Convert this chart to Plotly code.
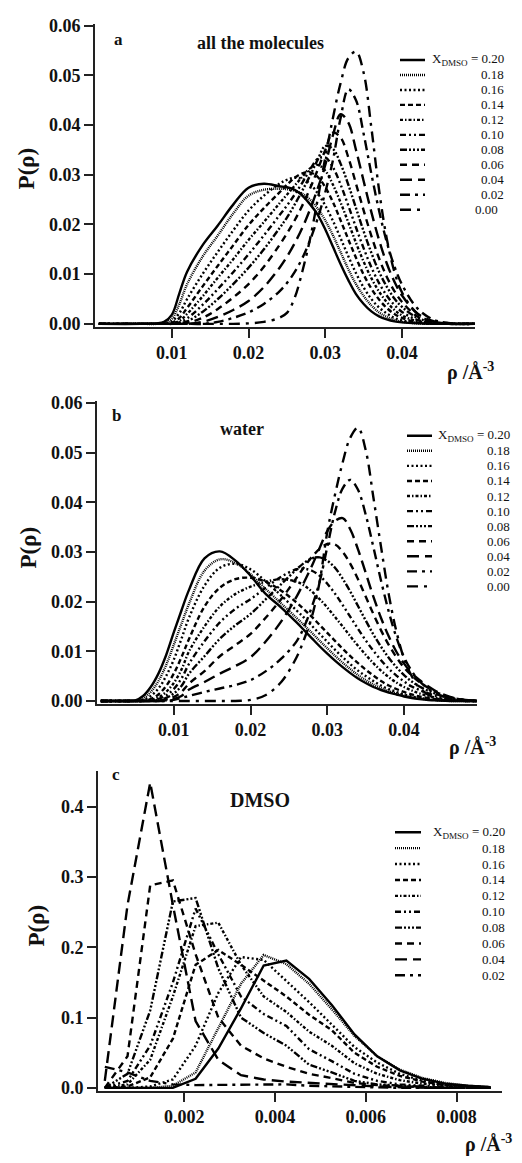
import plotly.graph_objects as go

W, H = 522, 1163
SERIF = "Liberation Serif"
INK = "#111111"

# ---------------- data ----------------
LABELS_AB = ["0.20", "0.18", "0.16", "0.14", "0.12", "0.10", "0.08", "0.06", "0.04", "0.02", "0.00"]
LABELS_C = ["0.20", "0.18", "0.16", "0.14", "0.12", "0.10", "0.08", "0.06", "0.04", "0.02"]

# panel a : all the molecules
RHO_A = [0.0005, 0.006, 0.008, 0.009, 0.010, 0.011, 0.012, 0.014, 0.016, 0.018, 0.020, 0.022,
         0.024, 0.025, 0.026, 0.027, 0.028, 0.029, 0.030, 0.031, 0.032, 0.033, 0.034, 0.035,
         0.036, 0.037, 0.038, 0.039, 0.040, 0.042, 0.044, 0.046, 0.0495]
PA_020 = [0, 0, 0.0001, 0.0004, 0.0018, 0.0062, 0.0105, 0.0158, 0.0198, 0.0240, 0.0274, 0.0282,
          0.0277, 0.0275, 0.0270, 0.0258, 0.0241, 0.0220, 0.0190, 0.0155, 0.0120, 0.0088, 0.0060, 0.0040,
          0.0025, 0.0015, 0.0009, 0.0005, 0.0003, 0.0001, 0, 0, 0]
PA_018 = [0, 0, 0, 0.0002, 0.0010, 0.0040, 0.0080, 0.0135, 0.0178, 0.0222, 0.0258, 0.0270,
          0.0272, 0.0271, 0.0268, 0.0262, 0.0250, 0.0232, 0.0208, 0.0178, 0.0144, 0.0110, 0.0080, 0.0056,
          0.0037, 0.0023, 0.0014, 0.0008, 0.0004, 0.0001, 0, 0, 0]
PA_016 = [0, 0, 0, 0.0001, 0.0005, 0.0022, 0.0050, 0.0100, 0.0145, 0.0188, 0.0228, 0.0258,
          0.0282, 0.0290, 0.0294, 0.0292, 0.0282, 0.0263, 0.0238, 0.0207, 0.0172, 0.0136, 0.0102, 0.0073,
          0.0050, 0.0033, 0.0021, 0.0012, 0.0007, 0.0002, 0, 0, 0]
PA_014 = [0, 0, 0, 0, 0.0002, 0.0012, 0.0032, 0.0075, 0.0117, 0.0158, 0.0199, 0.0233,
          0.0264, 0.0280, 0.0294, 0.0303, 0.0305, 0.0296, 0.0275, 0.0245, 0.0208, 0.0170, 0.0133, 0.0099,
          0.0071, 0.0049, 0.0032, 0.0020, 0.0012, 0.0003, 0.0001, 0, 0]
PA_012 = [0, 0, 0, 0, 0.0001, 0.0006, 0.0020, 0.0055, 0.0093, 0.0130, 0.0169, 0.0205,
          0.0242, 0.0260, 0.0278, 0.0296, 0.0313, 0.0320, 0.0308, 0.0280, 0.0244, 0.0204, 0.0163, 0.0125,
          0.0092, 0.0065, 0.0044, 0.0028, 0.0017, 0.0005, 0.0001, 0, 0]
PA_010 = [0, 0, 0, 0, 0, 0.0003, 0.0011, 0.0038, 0.0070, 0.0104, 0.0140, 0.0178,
          0.0218, 0.0238, 0.0260, 0.0284, 0.0310, 0.0332, 0.0335, 0.0315, 0.0280, 0.0238, 0.0194, 0.0152,
          0.0114, 0.0082, 0.0057, 0.0038, 0.0024, 0.0008, 0.0002, 0, 0]
PA_008 = [0, 0, 0, 0, 0, 0.0001, 0.0005, 0.0024, 0.0050, 0.0080, 0.0113, 0.0150,
          0.0192, 0.0214, 0.0240, 0.0268, 0.0298, 0.0330, 0.0358, 0.0352, 0.0322, 0.0280, 0.0233, 0.0186,
          0.0143, 0.0105, 0.0075, 0.0051, 0.0034, 0.0012, 0.0003, 0, 0]
PA_006 = [0, 0, 0, 0, 0, 0, 0.0002, 0.0012, 0.0030, 0.0053, 0.0080, 0.0115,
          0.0158, 0.0182, 0.0208, 0.0238, 0.0272, 0.0310, 0.0350, 0.0385, 0.0375, 0.0335, 0.0282, 0.0228,
          0.0177, 0.0132, 0.0095, 0.0066, 0.0044, 0.0015, 0.0004, 0.0001, 0]
PA_004 = [0, 0, 0, 0, 0, 0, 0, 0.0004, 0.0014, 0.0028, 0.0046, 0.0074,
          0.0112, 0.0135, 0.0162, 0.0193, 0.0230, 0.0272, 0.0320, 0.0380, 0.0422, 0.0405, 0.0350, 0.0287,
          0.0225, 0.0169, 0.0122, 0.0085, 0.0057, 0.0021, 0.0006, 0.0001, 0]
PA_002 = [0, 0, 0, 0, 0, 0, 0, 0, 0.0004, 0.0012, 0.0023, 0.0040,
          0.0065, 0.0082, 0.0104, 0.0132, 0.0168, 0.0212, 0.0265, 0.0330, 0.0415, 0.0472, 0.0450, 0.0382,
          0.0302, 0.0228, 0.0165, 0.0116, 0.0079, 0.0031, 0.0009, 0.0002, 0]
PA_000 = [0, 0, 0, 0, 0, 0, 0, 0, 0, 0, 0.0001, 0.0004,
          0.0012, 0.0022, 0.0052, 0.0105, 0.0170, 0.0250, 0.0335, 0.0415, 0.0485, 0.0535, 0.0548, 0.0505,
          0.0395, 0.0270, 0.0172, 0.0105, 0.0063, 0.0020, 0.0004, 0, 0]

# panel b : water
RHO_B = [0.0005, 0.004, 0.005, 0.006, 0.007, 0.008, 0.009, 0.010, 0.011, 0.012, 0.014, 0.016,
         0.018, 0.020, 0.022, 0.024, 0.026, 0.027, 0.028, 0.029, 0.030, 0.031, 0.032, 0.033,
         0.034, 0.035, 0.036, 0.037, 0.038, 0.039, 0.040, 0.041, 0.042, 0.044, 0.046, 0.048, 0.0495]
PB_020 = [0, 0, 0.0001, 0.0010, 0.0028, 0.0055, 0.0092, 0.0138, 0.0182, 0.0224, 0.0287, 0.0301,
          0.0283, 0.0252, 0.0215, 0.0188, 0.0158, 0.0142, 0.0126, 0.0110, 0.0095, 0.0081, 0.0068, 0.0056,
          0.0045, 0.0036, 0.0028, 0.0022, 0.0017, 0.0013, 0.0009, 0.0006, 0.0004, 0.0001, 0, 0, 0]
PB_018 = [0, 0, 0, 0.0005, 0.0018, 0.0040, 0.0072, 0.0113, 0.0155, 0.0196, 0.0262, 0.0285,
          0.0278, 0.0255, 0.0225, 0.0196, 0.0167, 0.0152, 0.0137, 0.0121, 0.0106, 0.0091, 0.0077, 0.0064,
          0.0052, 0.0042, 0.0033, 0.0026, 0.0020, 0.0015, 0.0011, 0.0008, 0.0005, 0.0002, 0, 0, 0]
PB_016 = [0, 0, 0, 0.0002, 0.0010, 0.0025, 0.0050, 0.0083, 0.0125, 0.0168, 0.0232, 0.0268,
          0.0276, 0.0265, 0.0240, 0.0212, 0.0182, 0.0167, 0.0151, 0.0135, 0.0119, 0.0103, 0.0088, 0.0074,
          0.0061, 0.0050, 0.0040, 0.0031, 0.0024, 0.0018, 0.0013, 0.0009, 0.0006, 0.0002, 0.0001, 0, 0]
PB_014 = [0, 0, 0, 0, 0.0004, 0.0013, 0.0030, 0.0055, 0.0088, 0.0125, 0.0190, 0.0228,
          0.0245, 0.0248, 0.0240, 0.0222, 0.0198, 0.0184, 0.0169, 0.0153, 0.0137, 0.0121, 0.0105, 0.0090,
          0.0076, 0.0063, 0.0051, 0.0040, 0.0031, 0.0024, 0.0018, 0.0013, 0.0009, 0.0004, 0.0001, 0, 0]
PB_012 = [0, 0, 0, 0, 0.0002, 0.0007, 0.0018, 0.0036, 0.0063, 0.0100, 0.0150, 0.0190,
          0.0215, 0.0230, 0.0240, 0.0245, 0.0240, 0.0232, 0.0220, 0.0205, 0.0188, 0.0169, 0.0150, 0.0130,
          0.0111, 0.0093, 0.0076, 0.0061, 0.0048, 0.0037, 0.0028, 0.0021, 0.0015, 0.0007, 0.0002, 0, 0]
PB_010 = [0, 0, 0, 0, 0.0001, 0.0004, 0.0011, 0.0024, 0.0045, 0.0075, 0.0120, 0.0158,
          0.0185, 0.0205, 0.0228, 0.0250, 0.0265, 0.0266, 0.0262, 0.0252, 0.0236, 0.0216, 0.0193, 0.0169,
          0.0145, 0.0122, 0.0101, 0.0082, 0.0065, 0.0051, 0.0039, 0.0029, 0.0022, 0.0011, 0.0004, 0.0001, 0]
PB_008 = [0, 0, 0, 0, 0, 0.0002, 0.0006, 0.0015, 0.0030, 0.0055, 0.0090, 0.0125,
          0.0152, 0.0175, 0.0205, 0.0235, 0.0265, 0.0278, 0.0287, 0.0289, 0.0282, 0.0268, 0.0246, 0.0220,
          0.0191, 0.0162, 0.0134, 0.0109, 0.0087, 0.0068, 0.0052, 0.0039, 0.0029, 0.0015, 0.0006, 0.0001, 0]
PB_006 = [0, 0, 0, 0, 0, 0.0001, 0.0003, 0.0008, 0.0018, 0.0035, 0.0060, 0.0090,
          0.0112, 0.0135, 0.0168, 0.0205, 0.0248, 0.0270, 0.0290, 0.0306, 0.0316, 0.0315, 0.0300, 0.0276,
          0.0245, 0.0210, 0.0175, 0.0142, 0.0113, 0.0088, 0.0067, 0.0051, 0.0038, 0.0019, 0.0007, 0.0002, 0]
PB_004 = [0, 0, 0, 0, 0, 0, 0.0001, 0.0004, 0.0010, 0.0023, 0.0038, 0.0055,
          0.0070, 0.0088, 0.0120, 0.0160, 0.0210, 0.0240, 0.0272, 0.0308, 0.0342, 0.0362, 0.0368, 0.0345,
          0.0305, 0.0258, 0.0210, 0.0167, 0.0130, 0.0099, 0.0075, 0.0056, 0.0042, 0.0021, 0.0008, 0.0002, 0]
PB_002 = [0, 0, 0, 0, 0, 0, 0, 0.0002, 0.0006, 0.0010, 0.0018, 0.0025,
          0.0032, 0.0042, 0.0060, 0.0085, 0.0120, 0.0150, 0.0190, 0.0240, 0.0310, 0.0380, 0.0428, 0.0445,
          0.0425, 0.0375, 0.0310, 0.0242, 0.0180, 0.0128, 0.0088, 0.0060, 0.0040, 0.0016, 0.0005, 0.0001, 0]
PB_000 = [0, 0, 0, 0, 0, 0, 0, 0, 0, 0, 0, 0,
          0, 0.0002, 0.0012, 0.0038, 0.0088, 0.0125, 0.0170, 0.0240, 0.0340, 0.0415, 0.0480, 0.0530,
          0.0550, 0.0505, 0.0410, 0.0310, 0.0215, 0.0140, 0.0085, 0.0050, 0.0026, 0.0006, 0.0001, 0, 0]

# panel c : DMSO (histogram bin centres)
RHO_C = [0.00025, 0.00075, 0.00125, 0.00175, 0.00225, 0.00275, 0.00325, 0.00375, 0.00425,
         0.00475, 0.00525, 0.00575, 0.00625, 0.00675, 0.00725, 0.00775, 0.00825, 0.00875]
PC_020 = [0, 0, 0, 0, 0.013, 0.056, 0.113, 0.174, 0.181, 0.155, 0.118, 0.076, 0.045, 0.025, 0.013, 0.006, 0.003, 0.001]
PC_018 = [0, 0, 0, 0.003, 0.022, 0.085, 0.148, 0.189, 0.176, 0.148, 0.112, 0.074, 0.045, 0.026, 0.014, 0.007, 0.003, 0.001]
PC_016 = [0, 0, 0.002, 0.012, 0.060, 0.135, 0.186, 0.182, 0.152, 0.122, 0.090, 0.058, 0.036, 0.020, 0.010, 0.005, 0.002, 0.001]
PC_014 = [0, 0.002, 0.015, 0.070, 0.175, 0.196, 0.175, 0.152, 0.130, 0.104, 0.082, 0.050, 0.030, 0.017, 0.009, 0.004, 0.002, 0.001]
PC_012 = [0, 0.005, 0.040, 0.130, 0.230, 0.235, 0.175, 0.130, 0.108, 0.080, 0.060, 0.035, 0.020, 0.011, 0.006, 0.003, 0.001, 0]
PC_010 = [0, 0.010, 0.060, 0.150, 0.255, 0.190, 0.130, 0.105, 0.088, 0.055, 0.038, 0.020, 0.010, 0.005, 0.003, 0.001, 0, 0]
PC_008 = [0, 0.020, 0.110, 0.265, 0.270, 0.170, 0.100, 0.078, 0.060, 0.033, 0.022, 0.010, 0.005, 0.003, 0.001, 0, 0, 0]
PC_006 = [0, 0.045, 0.288, 0.295, 0.190, 0.100, 0.060, 0.042, 0.030, 0.020, 0.014, 0.007, 0.004, 0.002, 0.001, 0, 0, 0]
PC_004 = [0.010, 0.260, 0.434, 0.260, 0.095, 0.040, 0.018, 0.012, 0.009, 0.007, 0.005, 0.003, 0.002, 0.001, 0, 0, 0, 0]
PC_002 = [0.030, 0.022, 0.010, 0.005, 0.004, 0.004, 0.004, 0.004, 0.005, 0.003, 0.002, 0.001, 0, 0, 0, 0, 0, 0]

SERIES_A = [PA_020, PA_018, PA_016, PA_014, PA_012, PA_010, PA_008, PA_006, PA_004, PA_002, PA_000]
SERIES_B = [PB_020, PB_018, PB_016, PB_014, PB_012, PB_010, PB_008, PB_006, PB_004, PB_002, PB_000]
SERIES_C = [PC_020, PC_018, PC_016, PC_014, PC_012, PC_010, PC_008, PC_006, PC_004, PC_002]

TICKS_AB_X = [0.01, 0.02, 0.03, 0.04]
TICKS_AB_Y = [0.00, 0.01, 0.02, 0.03, 0.04, 0.05, 0.06]
TICKS_C_X = [0.002, 0.004, 0.006, 0.008]
TICKS_C_Y = [0.0, 0.1, 0.2, 0.3, 0.4]

# ---------------- styles ----------------
DASH = {
    "0.20": "solid",
    "0.18": "1px,1px",
    "0.16": "2px,2.5px",
    "0.14": "5px,3px",
    "0.12": "3px,2px,1.5px,2px",
    "0.10": "6px,3px,2px,3px,2px,3px",
    "0.08": "7px,2px,2px,2px,2px,2px,2px,2px",
    "0.06": "7px,5px",
    "0.04": "12px,6px",
    "0.02": "10px,5px,3px,5px",
    "0.00": "11px,6px,3px,6px",
}
LW = 2.4


def px_x(p):
    return p / W


def px_y(p):
    return 1 - p / H


fig = go.Figure()

panels = [
    ("", RHO_A, SERIES_A, LABELS_AB, "spline"),
    ("2", RHO_B, SERIES_B, LABELS_AB, "spline"),
    ("3", RHO_C, SERIES_C, LABELS_C, "linear"),
]
for sfx, rho, series, labels, shape in panels:
    for lab, vals in reversed(list(zip(labels, series))):
        fig.add_trace(go.Scatter(
            x=rho, y=vals, mode="lines", name=lab, showlegend=False,
            xaxis="x" + sfx, yaxis="y" + sfx,
            line=dict(color="black", width=LW, dash=DASH[lab], shape=shape,
                      **({"smoothing": 1.0} if shape == "spline" else {})),
            hoverinfo="skip",
        ))

# legend keys on small auxiliary axes
LEG = [
    ("4", LABELS_AB, (400, 425), (45.1, 211.9), 506),
    ("5", LABELS_AB, (407, 432), (425.7, 593.6), 512),
    ("6", LABELS_C, (395, 421), (827, 988), 507),
]
KEY_SPAN = [0, 1]
annotations = []
for sfx, labels, (kx0, kx1), (ly0, ly1), txr in LEG:
    n = len(labels)
    for i, lab in enumerate(labels):
        fig.add_trace(go.Scatter(
            x=KEY_SPAN, y=[i, i], mode="lines", showlegend=False,
            xaxis="x" + sfx, yaxis="y" + sfx, hoverinfo="skip",
            line=dict(color="black", width=LW, dash=DASH[lab]),
        ))
        text = ("X<sub>DMSO</sub> = " + lab) if i == 0 else lab
        xr = txr - 6 if (sfx == "4" and lab == "0.00") else txr
        annotations.append(dict(
            text=text, xref="paper", yref="y" + sfx, x=px_x(xr), y=i,
            xanchor="right", yanchor="middle", showarrow=False,
            font=dict(family=SERIF, size=13, color=INK),
        ))
    fig.layout["xaxis" + sfx] = dict(domain=[px_x(kx0), px_x(kx1)], range=[0, 1],
                                     visible=False, anchor="y" + sfx, fixedrange=True)
    fig.layout["yaxis" + sfx] = dict(domain=[px_y(ly1), px_y(ly0)], range=[n - 0.5, -0.5],
                                     visible=False, anchor="x" + sfx, fixedrange=True)

axis_common = dict(showline=True, linecolor="#222222", linewidth=1.6, ticks="outside",
                   ticklen=9, tickwidth=1.6, tickcolor="#222222", showgrid=False, zeroline=False,
                   tickfont=dict(family=SERIF, size=18, color=INK, weight="bold"))

fig.update_layout(
    xaxis=dict(domain=[px_x(95), px_x(475)], range=[0, 0.0495], anchor="y",
               tickvals=TICKS_AB_X, tickformat=".2f", **axis_common),
    yaxis=dict(domain=[px_y(323), px_y(16)], range=[-0.0006, 0.0604], anchor="x",
               tickvals=TICKS_AB_Y, tickformat=".2f", **axis_common),
    xaxis2=dict(domain=[px_x(97), px_x(477)], range=[0, 0.0495], anchor="y2",
                tickvals=TICKS_AB_X, tickformat=".2f", **axis_common),
    yaxis2=dict(domain=[px_y(705), px_y(398)], range=[-0.0006, 0.0604], anchor="x2",
                tickvals=TICKS_AB_Y, tickformat=".2f", **axis_common),
    xaxis3=dict(domain=[px_x(98), px_x(502)], range=[0.0001, 0.009], anchor="y3",
                tickvals=TICKS_C_X, tickformat=".3f", **axis_common),
    yaxis3=dict(domain=[px_y(1097), px_y(773)], range=[-0.0042, 0.4505], anchor="x3",
                tickvals=TICKS_C_Y, tickformat=".1f", **axis_common),
)

# titles and panel labels: (text, left px, centre-y px, font size)
texts = [
    ("a", 112, 32, 17), ("all the molecules", 195, 35, 18),
    ("b", 110, 413, 17), ("water", 218, 426, 18),
    ("c", 110, 777, 17), ("DMSO", 228, 802, 20),
    ("ρ /Å<sup>-3</sup>", 445, 368, 20), ("ρ /Å<sup>-3</sup>", 447, 748, 20),
    ("ρ /Å<sup>-3</sup>", 463, 1150, 20),
]
for t, x, y, s in texts:
    annotations.append(dict(text=t, xref="paper", yref="paper", x=px_x(x), y=px_y(y),
                            xanchor="left", yanchor="middle", showarrow=False,
                            font=dict(family=SERIF, size=s, color=INK, weight="bold")))

YTITLES = [(12, 163), (14, 547), (22, 930)]
for x, y in YTITLES:
    annotations.append(dict(text="P(ρ)", xref="paper", yref="paper",
                            x=px_x(x), y=px_y(y), xanchor="left", yanchor="middle",
                            showarrow=False, textangle=-90,
                            font=dict(family=SERIF, size=23, color=INK, weight="bold")))

fig.update_layout(
    width=W, height=H, margin=dict(l=0, r=0, t=0, b=0),
    paper_bgcolor="white", plot_bgcolor="white", showlegend=False,
    annotations=annotations,
)

fig.write_html("out.html")
